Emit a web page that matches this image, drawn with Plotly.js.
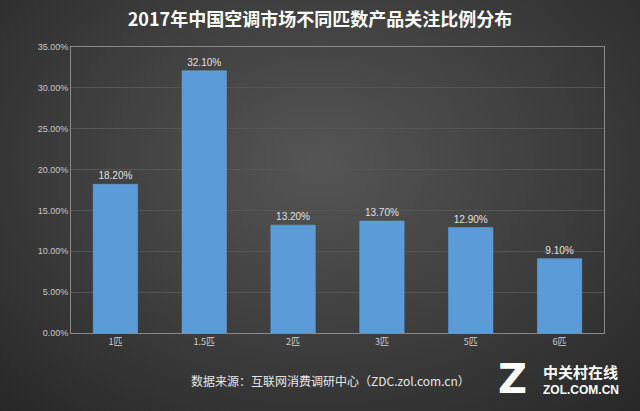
<!DOCTYPE html>
<html><head><meta charset="utf-8">
<script src="https://cdn.plot.ly/plotly-3.0.1.min.js"></script>
<style>
html,body{margin:0;padding:0;width:640px;height:411px;overflow:hidden;
background:radial-gradient(ellipse 75% 85% at 50% 40%, #555555 0%, #3e3e3e 50%, #262626 100%);}
#chart{width:640px;height:411px;}
</style></head><body>
<div id="chart"></div>
<script>
const categories = ['1匹','1.5匹','2匹','3匹','5匹','6匹'];
const shares = [18.20, 32.10, 13.20, 13.70, 12.90, 9.10];
const yTicks = [0,5,10,15,20,25,30,35];
const yTickLabels = ['0.00%','5.00%','10.00%','15.00%','20.00%','25.00%','30.00%','35.00%'];

const trace = {
  type:'bar', x:categories, y:shares,
  width:0.5,
  marker:{color:'#5b9bd8', line:{color:'#6aa6dd', width:0.5}},
  text: shares.map(v=>v.toFixed(2)+'%'),
  textposition:'outside',
  textfont:{family:'Liberation Sans, Arial', size:10, color:'#e0e0e0'},
  cliponaxis:false,
  hoverinfo:'none'
};
const layout = {
  width:640, height:411,
  paper_bgcolor:'rgba(0,0,0,0)', plot_bgcolor:'rgba(0,0,0,0)',
  margin:{l:71, r:36, t:47, b:78},
  title:{text:'<b>2017年中国空调市场不同匹数产品关注比例分布</b>', x:0.5, xanchor:'center', y:0.952, yanchor:'middle',
    font:{family:'Noto Sans CJK SC, sans-serif', size:18, color:'#ffffff'}},
  xaxis:{type:'category', showgrid:false, showline:true, linecolor:'#8a8a8a', linewidth:1, mirror:true,
    ticks:'', tickfont:{family:'Noto Sans CJK SC, sans-serif', size:9, color:'#cfcfcf'}, fixedrange:true},
  yaxis:{range:[0,35], tickvals:yTicks, ticktext:yTickLabels, showgrid:true, gridcolor:'#555555', gridwidth:1,
    showline:true, linecolor:'#8a8a8a', linewidth:1, mirror:true, zeroline:false, ticks:'',
    tickfont:{family:'Liberation Sans, Arial', size:9, color:'#c8c8c8'}, fixedrange:true},
  bargap:0.5,
  showlegend:false,
  annotations:[
    {text:'数据来源：互联网消费调研中心（ZDC.zol.com.cn）', xref:'paper', yref:'paper', x:0.486, y:-0.165,
      xanchor:'center', yanchor:'middle', showarrow:false,
      font:{family:'Noto Sans CJK SC, sans-serif', size:12, color:'#e6e6e6'}},
    {text:'<b>Z</b>', xref:'paper', yref:'paper', x:0.829, y:-0.16, xanchor:'center', yanchor:'middle', showarrow:false,
      font:{family:'DejaVu Sans, sans-serif', size:40, color:'#ffffff'}},
    {text:'<b>中关村在线</b>', xref:'paper', yref:'paper', x:0.882, y:-0.133, xanchor:'left', yanchor:'middle', showarrow:false,
      font:{family:'Noto Sans CJK SC, sans-serif', size:15, color:'#ffffff'}},
    {text:'<b>ZOL.COM.CN</b>', xref:'paper', yref:'paper', x:0.882, y:-0.2, xanchor:'left', yanchor:'middle', showarrow:false,
      font:{family:'Liberation Sans, Arial', size:12, color:'#ffffff'}}
  ]
};
Plotly.newPlot('chart',[trace],layout,{displayModeBar:false, staticPlot:true});
</script>
</body></html>
